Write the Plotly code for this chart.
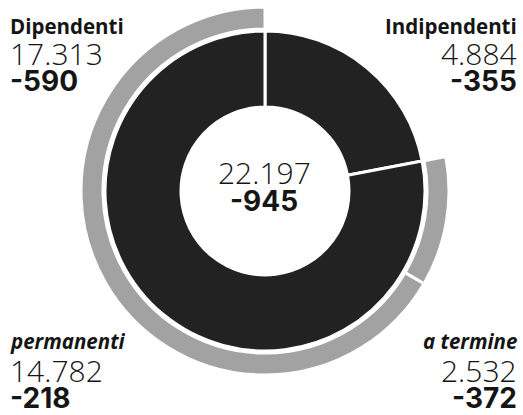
import plotly.graph_objects as go

W, H = 523, 415

# Data
inner_labels = ["Indipendenti", "Dipendenti"]
inner_values = [4884, 17313]
outer_labels = ["Indipendenti (vuoto)", "a termine", "permanenti"]
outer_values = [4884, 2532, 14782]
total_value = "22.197"
total_delta = "-945"
value_text = {"Dipendenti": "17.313", "Indipendenti": "4.884", "permanenti": "14.782", "a termine": "2.532"}
delta_text = {"Dipendenti": "-590", "Indipendenti": "-355", "permanenti": "-218", "a termine": "-372"}

DARK = "#222222"
GREY = "#a2a2a2"
INK = "#151515"

cx, cy = 265, 191
r_in_outer, r_in_hole = 160, 84
r_out_outer, r_out_inner = 184, 162


def dom(r):
    return dict(x=[(cx - r) / W, (cx + r) / W],
                y=[(H - cy - r) / H, (H - cy + r) / H])


fig = go.Figure()
fig.add_trace(go.Pie(
    values=outer_values, labels=outer_labels, sort=False, direction="clockwise",
    rotation=0, hole=r_out_inner / r_out_outer, domain=dom(r_out_outer),
    marker=dict(colors=["rgba(0,0,0,0)", GREY, GREY], line=dict(color="white", width=3)),
    textinfo="none", hoverinfo="label+value", showlegend=False,
))
fig.add_trace(go.Pie(
    values=inner_values, labels=inner_labels, sort=False, direction="clockwise",
    rotation=0, hole=r_in_hole / r_in_outer, domain=dom(r_in_outer),
    marker=dict(colors=[DARK, DARK], line=dict(color="white", width=3)),
    textinfo="none", hoverinfo="label+value", showlegend=False,
))

NAME_FONT = "Open Sans"
VAL_FONT = "Open Sans"
DELTA_FONT = "Inter"


def ann(text, xpix, ypix, size, weight, anchor, family, italic=False):
    fig.add_annotation(
        text=text, x=xpix / W, y=1 - ypix / H, xref="paper", yref="paper",
        xanchor=anchor, yanchor="middle", showarrow=False,
        font=dict(family=family, size=size, color=INK, weight=weight,
                  style="italic" if italic else "normal"),
    )


# corner labels: (name, x, anchor, y_name, y_val, y_delta, italic)
corners = [
    ("Dipendenti", 8, "left", 26, 53.5, 80.5, False),
    ("Indipendenti", 519, "right", 26, 53.5, 80.5, False),
    ("permanenti", 8, "left", 341, 370.5, 397.5, True),
    ("a termine", 519, "right", 341, 370.5, 397.5, True),
]
for name, x, anc, yn, yv, yd, it in corners:
    ann(name, x, yn, 20.5, 700, anc, NAME_FONT, italic=it)
    ann(value_text[name], x, yv, 30, 300, anc, VAL_FONT)
    ann(delta_text[name], x, yd, 28, 700, anc, DELTA_FONT)

ann(total_value, 264, 172, 30, 300, "center", VAL_FONT)
ann(total_delta, 264, 201, 28, 700, "center", DELTA_FONT)

fig.update_layout(
    width=W, height=H, margin=dict(l=0, r=0, t=0, b=0),
    paper_bgcolor="white", plot_bgcolor="white",
)
fig.write_html("out.html")
